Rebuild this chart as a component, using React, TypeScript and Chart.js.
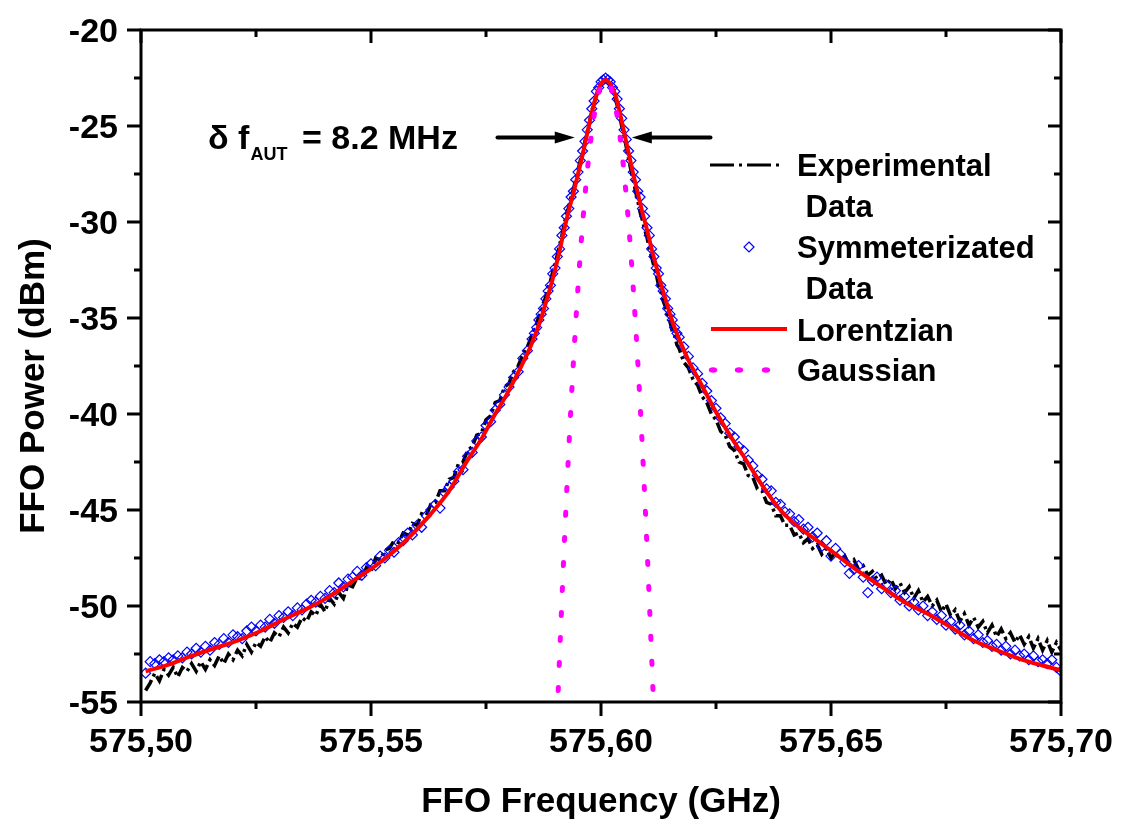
import React, { useEffect, useRef } from 'react';
import { Chart, registerables } from 'chart.js';
Chart.register(...registerables);

// ---------- DATA ----------
// Common frequency grid (GHz) of experimental / symmetrized data
const FREQ = [
  575.501,575.502,575.503,575.504,575.505,575.506,575.507,575.508,575.509,575.510,
  575.511,575.512,575.513,575.514,575.515,575.516,575.517,575.518,575.519,575.520,
  575.521,575.522,575.523,575.524,575.525,575.526,575.527,575.528,575.529,575.530,
  575.531,575.532,575.533,575.534,575.535,575.536,575.537,575.538,575.539,575.540,
  575.541,575.542,575.543,575.544,575.545,575.546,575.547,575.548,575.549,575.550,
  575.551,575.552,575.553,575.554,575.555,575.556,575.557,575.558,575.559,575.560,
  575.561,575.562,575.563,575.564,575.565,575.566,575.567,575.568,575.569,575.570,
  575.571,575.572,575.573,575.574,575.575,575.576,575.577,575.578,575.579,575.580,
  575.581,575.582,575.583,575.584,575.585,
  575.5855,575.586,575.5865,575.587,575.5875,575.588,575.5885,575.589,575.5895,575.590,
  575.5905,575.591,575.5915,575.592,575.5925,575.593,575.5935,575.594,575.5945,575.595,
  575.5955,575.596,575.5965,575.597,575.5975,575.598,575.5985,575.599,575.5995,575.600,
  575.6005,575.601,575.6015,575.602,575.6025,575.603,575.6035,575.604,575.6045,575.605,
  575.6055,575.606,575.6065,575.607,575.6075,575.608,575.6085,575.609,575.6095,575.610,
  575.6105,575.611,575.6115,575.612,575.6125,575.613,575.6135,575.614,575.6145,575.615,
  575.6155,575.616,575.6165,
  575.617,575.618,575.619,575.620,575.621,575.622,575.623,575.624,575.625,575.626,
  575.627,575.628,575.629,575.630,575.631,575.632,575.633,575.634,575.635,575.636,
  575.637,575.638,575.639,575.640,575.641,575.642,575.643,575.644,575.645,575.646,
  575.647,575.648,575.649,575.650,575.651,575.652,575.653,575.654,575.655,575.656,
  575.657,575.658,575.659,575.660,575.661,575.662,575.663,575.664,575.665,575.666,
  575.667,575.668,575.669,575.670,575.671,575.672,575.673,575.674,575.675,575.676,
  575.677,575.678,575.679,575.680,575.681,575.682,575.683,575.684,575.685,575.686,
  575.687,575.688,575.689,575.690,575.691,575.692,575.693,575.694,575.695,575.696,
  575.697,575.698,575.699,575.700
];

// Experimental data (dBm)
const EXPERIMENTAL = [
  -54.4,-54.0,-53.5,-53.9,-53.3,-53.6,-53.2,-53.7,-53.2,-53.4,
  -53.0,-53.4,-52.9,-53.3,-52.8,-53.1,-52.6,-53.0,-52.5,-52.8,
  -52.3,-52.6,-52.0,-52.4,-51.9,-52.1,-51.6,-51.9,-51.4,-51.6,
  -51.1,-51.4,-50.9,-51.1,-50.6,-50.8,-50.3,-50.5,-49.9,-50.3,
  -49.6,-49.9,-49.3,-49.6,-48.9,-49.0,-48.5,-48.6,-48.0,-48.2,
  -47.5,-47.6,-47.1,-47.0,-46.6,-46.7,-46.2,-46.3,-45.7,-45.8,
  -45.2,-45.3,-44.7,-44.6,-44.0,-44.0,-43.4,-43.3,-42.6,-42.5,
  -41.9,-41.7,-41.1,-41.0,-40.3,-40.1,-39.4,-39.3,-38.6,-38.4,
  -37.8,-37.5,-36.9,-36.5,-35.9,
  -35.6,-35.3,-34.9,-34.7,-34.2,-33.9,-33.4,-33.1,-32.6,-32.2,
  -31.7,-31.2,-30.7,-30.1,-29.6,-29.2,-28.7,-28.3,-27.8,-27.3,
  -26.8,-26.4,-25.8,-25.3,-24.8,-24.2,-23.8,-23.4,-23.0,-22.8,
  -22.7,-22.6,-22.7,-22.9,-23.2,-23.5,-23.9,-24.4,-25.0,-25.5,
  -26.1,-26.7,-27.3,-27.8,-28.4,-28.9,-29.5,-29.9,-30.4,-30.8,
  -31.4,-31.8,-32.3,-32.7,-33.3,-33.6,-34.1,-34.4,-34.9,-35.2,
  -35.7,-35.9,-36.4,
  -36.6,-37.3,-37.6,-38.2,-38.5,-39.1,-39.4,-40.0,-40.3,-40.9,
  -41.1,-41.7,-41.9,-42.5,-42.6,-43.2,-43.3,-43.9,-44.0,-44.6,
  -44.7,-45.3,-45.3,-45.8,-45.8,-46.3,-46.2,-46.7,-46.5,-47.0,
  -46.8,-47.3,-47.0,-47.5,-47.2,-47.6,-47.4,-47.9,-47.6,-48.1,
  -47.9,-48.4,-48.2,-48.6,-48.4,-48.9,-48.6,-49.1,-48.8,-49.3,
  -49.0,-49.6,-49.2,-49.8,-49.5,-50.0,-49.7,-50.3,-49.9,-50.5,
  -50.2,-50.8,-50.4,-51.0,-50.6,-51.1,-50.8,-51.4,-51.0,-51.6,
  -51.2,-51.7,-51.4,-51.9,-51.5,-52.0,-51.6,-52.2,-51.7,-52.3,
  -51.8,-52.4,-51.9,-52.3
];

// Symmetrized data (dBm)
const SYMMETRIZED = [
  -53.5,-52.9,-53.0,-52.8,-52.9,-52.7,-52.8,-52.6,-52.7,-52.4,
  -52.5,-52.2,-52.4,-52.1,-52.3,-51.9,-52.0,-51.7,-51.9,-51.5,
  -51.6,-51.7,-51.3,-51.1,-51.3,-51.0,-51.1,-50.7,-50.9,-50.5,
  -50.6,-50.3,-50.5,-50.1,-50.2,-49.9,-49.7,-49.8,-49.5,-49.6,
  -49.2,-49.3,-48.8,-49.0,-48.6,-48.5,-48.2,-48.4,-48.0,-47.8,
  -47.9,-47.4,-47.5,-47.1,-47.2,-46.7,-46.6,-46.2,-46.3,-45.8,
  -45.9,-45.3,-45.0,-44.7,-44.9,-44.1,-43.8,-43.5,-43.0,-42.9,
  -42.2,-42.0,-41.4,-41.2,-40.6,-40.4,-39.8,-39.5,-39.0,-38.6,
  -38.1,-37.8,-37.1,-36.7,-36.1,
  -35.8,-35.5,-35.1,-34.8,-34.5,-34.0,-33.6,-33.3,-32.7,-32.4,
  -31.8,-31.4,-30.7,-30.3,-29.7,-29.3,-28.7,-28.4,-27.8,-27.4,
  -26.8,-26.3,-25.8,-25.2,-24.7,-24.1,-23.7,-23.2,-23.0,-22.7,
  -22.6,-22.5,-22.6,-22.7,-23.0,-23.2,-23.6,-24.1,-24.6,-25.2,
  -25.7,-26.3,-26.8,-27.4,-27.8,-28.4,-28.7,-29.3,-29.7,-30.3,
  -30.7,-31.4,-31.8,-32.4,-32.7,-33.3,-33.6,-34.0,-34.5,-34.8,
  -35.1,-35.5,-35.8,
  -36.0,-36.5,-37.0,-37.6,-37.9,-38.4,-38.8,-39.3,-39.7,-40.2,
  -40.5,-41.0,-41.2,-41.7,-41.9,-42.4,-42.7,-43.2,-43.4,-43.9,
  -44.0,-44.6,-44.7,-45.1,-45.2,-45.6,-45.5,-46.0,-45.9,-46.4,
  -46.2,-46.9,-46.6,-47.4,-47.0,-47.3,-47.7,-48.3,-48.1,-47.9,
  -48.5,-49.3,-48.7,-48.5,-49.1,-48.9,-49.3,-49.2,-49.7,-49.5,
  -50.0,-49.8,-50.2,-50.0,-50.5,-50.3,-50.7,-50.5,-51.0,-50.8,
  -51.2,-51.0,-51.5,-51.3,-51.7,-51.5,-51.9,-51.8,-52.1,-52.0,
  -52.3,-52.1,-52.5,-52.3,-52.6,-52.5,-52.8,-52.6,-52.9,-52.8,
  -53.0,-52.8,-53.2,-53.4
];

// Lorentzian fit
const LOR_FREQ = [
  575.501,575.506,575.511,575.516,575.521,575.526,575.531,575.536,575.541,575.546,
  575.551,575.555,575.559,575.563,575.567,575.571,575.574,575.577,575.579,575.581,
  575.583,575.585,575.587,575.588,575.589,575.590,575.591,575.592,575.593,575.594,
  575.595,575.596,575.597,575.598,575.599,575.600,575.601,
  575.602,575.603,575.604,575.605,575.606,575.607,575.608,575.609,575.610,575.611,
  575.612,575.613,575.614,575.615,575.616,575.617,575.619,575.621,575.623,575.625,
  575.628,575.631,575.635,575.639,575.643,575.647,575.651,575.656,575.661,575.666,
  575.671,575.676,575.681,575.686,575.691,575.696,575.700
];
const LOR_POWER = [
  -53.4,-53.05,-52.6,-52.2,-51.8,-51.3,-50.7,-50.15,-49.5,-48.7,
  -47.9,-47.15,-46.25,-45.2,-44.0,-42.4,-41.3,-40.0,-39.2,-38.3,
  -37.35,-36.3,-35.0,-34.2,-33.4,-32.5,-31.5,-30.4,-29.4,-28.5,
  -27.5,-26.5,-25.4,-24.3,-23.4,-22.8,-22.6,
  -22.8,-23.3,-24.2,-25.3,-26.4,-27.5,-28.5,-29.5,-30.4,-31.4,
  -32.3,-33.2,-34.0,-34.8,-35.5,-36.1,-37.2,-38.1,-39.0,-39.9,
  -41.1,-42.2,-43.7,-45.0,-45.9,-46.6,-47.3,-48.2,-49.0,-49.8,
  -50.4,-51.1,-51.8,-52.3,-52.75,-53.1,-53.35
];

// Gaussian fit
const GAU_FREQ = [
  575.5907,575.591,575.592,575.593,575.594,575.595,575.596,575.597,575.598,575.599,
  575.600,575.601,575.602,575.603,575.604,575.605,575.606,575.607,575.608,575.609,
  575.610,575.611,575.6113
];
const GAU_POWER = [
  -54.4,-52.6,-46.9,-41.8,-37.3,-33.4,-30.1,-27.4,-25.3,-23.8,
  -22.9,-22.6,-22.9,-23.8,-25.3,-27.4,-30.1,-33.4,-37.3,-41.8,
  -46.9,-52.6,-54.4
];

// Axes
const X_TICKS = [575.5, 575.55, 575.6, 575.65, 575.7];
const X_TICK_LABELS = ['575,50', '575,55', '575,60', '575,65', '575,70'];
const X_MINOR = [575.525, 575.575, 575.625, 575.675];
const Y_TICKS = [-20, -25, -30, -35, -40, -45, -50, -55];
const Y_TICK_LABELS = ['-20', '-25', '-30', '-35', '-40', '-45', '-50', '-55'];
const Y_MINOR = [-22.5, -27.5, -32.5, -37.5, -42.5, -47.5, -52.5];

const X_TITLE = 'FFO Frequency (GHz)';
const Y_TITLE = 'FFO Power (dBm)';
const LEGEND = [
  ['Experimental', ' Data'],
  ['Symmeterizated', ' Data'],
  ['Lorentzian'],
  ['Gaussian'],
];
// Linewidth annotation: arrows (GHz, dBm)
const ARROW_LEFT = [575.5775, 575.5943];
const ARROW_RIGHT = [575.6238, 575.6067];
const ARROW_LEVEL = -25.6;

const FONT = '"Liberation Sans", Arial, Helvetica, sans-serif';

const decoPlugin = {
  id: 'deco',
  afterDatasetsDraw(chart: any) {
    const ctx = chart.ctx as CanvasRenderingContext2D;
    const xs = chart.scales.x;
    const ys = chart.scales.y;
    const { left, right, top, bottom } = chart.chartArea;
    ctx.save();
    ctx.fillStyle = '#000';
    ctx.strokeStyle = '#000';
    ctx.setLineDash([]);
    ctx.lineWidth = 3;
    ctx.lineCap = 'butt';
    ctx.strokeRect(left, top, right - left, bottom - top);

    ctx.beginPath();
    X_TICKS.forEach((v) => {
      const p = xs.getPixelForValue(v);
      ctx.moveTo(p, bottom); ctx.lineTo(p, bottom + 14);
      ctx.moveTo(p, top); ctx.lineTo(p, top + 13);
    });
    X_MINOR.forEach((v) => {
      const p = xs.getPixelForValue(v);
      ctx.moveTo(p, bottom); ctx.lineTo(p, bottom + 7);
      ctx.moveTo(p, top); ctx.lineTo(p, top + 7);
    });
    Y_TICKS.forEach((v) => {
      const p = ys.getPixelForValue(v);
      ctx.moveTo(left, p); ctx.lineTo(left - 14, p);
      ctx.moveTo(right, p); ctx.lineTo(right - 13, p);
    });
    Y_MINOR.forEach((v) => {
      const p = ys.getPixelForValue(v);
      ctx.moveTo(left, p); ctx.lineTo(left - 7, p);
      ctx.moveTo(right, p); ctx.lineTo(right - 7, p);
    });
    ctx.stroke();

    // tick labels
    ctx.font = `bold 34px ${FONT}`;
    ctx.textAlign = 'center';
    ctx.textBaseline = 'alphabetic';
    X_TICKS.forEach((v, i) => {
      ctx.fillText(X_TICK_LABELS[i], xs.getPixelForValue(v), bottom + 50);
    });
    ctx.font = `bold 34px ${FONT}`;
    ctx.textAlign = 'right';
    Y_TICKS.forEach((v, i) => {
      ctx.fillText(Y_TICK_LABELS[i], left - 23, ys.getPixelForValue(v) + 12);
    });

    // axis titles
    ctx.font = `bold 35px ${FONT}`;
    ctx.textAlign = 'center';
    ctx.fillText(X_TITLE, (left + right) / 2, 812);
    ctx.save();
    ctx.translate(44, 386);
    ctx.rotate(-Math.PI / 2);
    ctx.fillText(Y_TITLE, 0, 0);
    ctx.restore();

    // annotation text
    ctx.textAlign = 'left';
    ctx.font = `bold 34px ${FONT}`;
    ctx.fillText('\u03B4 f', 208, 149);
    const w = ctx.measureText('\u03B4 f').width;
    ctx.font = `bold 18px ${FONT}`;
    ctx.fillText('AUT', 208 + w + 1, 160);
    ctx.font = `bold 34px ${FONT}`;
    ctx.fillText('= 8.2 MHz', 302, 149);

    // arrows
    const ay = ys.getPixelForValue(ARROW_LEVEL);
    const drawArrow = (fromV: number, toV: number) => {
      const x0 = xs.getPixelForValue(fromV);
      const x1 = xs.getPixelForValue(toV);
      const dir = x1 > x0 ? 1 : -1;
      ctx.lineWidth = 4;
      ctx.lineCap = 'round';
      ctx.beginPath();
      ctx.moveTo(x0, ay);
      ctx.lineTo(x1 - dir * 16, ay);
      ctx.stroke();
      ctx.beginPath();
      ctx.moveTo(x1, ay);
      ctx.lineTo(x1 - dir * 20, ay - 6);
      ctx.lineTo(x1 - dir * 20, ay + 6);
      ctx.closePath();
      ctx.fill();
    };
    drawArrow(ARROW_LEFT[0], ARROW_LEFT[1]);
    drawArrow(ARROW_RIGHT[0], ARROW_RIGHT[1]);

    // legend
    ctx.lineCap = 'butt';
    ctx.lineWidth = 3;
    ctx.setLineDash([24, 5, 3, 5]);
    ctx.beginPath();
    ctx.moveTo(710, 165); ctx.lineTo(780, 165);
    ctx.stroke();
    ctx.setLineDash([]);

    ctx.strokeStyle = '#0000ff';
    ctx.lineWidth = 1.2;
    ctx.beginPath();
    ctx.moveTo(749, 242); ctx.lineTo(754, 247); ctx.lineTo(749, 252); ctx.lineTo(744, 247);
    ctx.closePath();
    ctx.stroke();

    ctx.strokeStyle = '#ff0000';
    ctx.lineWidth = 4;
    ctx.beginPath();
    ctx.moveTo(711, 329); ctx.lineTo(787, 329);
    ctx.stroke();

    ctx.fillStyle = '#ff00ff';
    [713, 739, 766].forEach((x) => {
      ctx.beginPath();
      ctx.ellipse(x, 370, 4.2, 2.8, 0, 0, Math.PI * 2);
      ctx.fill();
    });

    ctx.fillStyle = '#000';
    ctx.font = `bold 31px ${FONT}`;
    ctx.textAlign = 'left';
    const baselines = [[176, 217], [258, 299], [341], [381]];
    LEGEND.forEach((lines, i) => {
      lines.forEach((t, j) => ctx.fillText(t, 797, baselines[i][j]));
    });
    ctx.restore();
  },
};

export default function App() {
  const ref = useRef<HTMLCanvasElement | null>(null);
  useEffect(() => {
    if (!ref.current) return;
    const chart = new Chart(ref.current, {
      type: 'scatter',
      data: {
        datasets: [
          {
            label: 'Gaussian',
            data: GAU_FREQ.map((x, i) => ({ x, y: GAU_POWER[i] })),
            showLine: true,
            borderColor: '#ff00ff',
            borderWidth: 5,
            borderDash: [3, 22],
            borderCapStyle: 'round',
            pointRadius: 0,
            cubicInterpolationMode: 'monotone',
          } as any,
          {
            label: 'Lorentzian',
            data: LOR_FREQ.map((x, i) => ({ x, y: LOR_POWER[i] })),
            showLine: true,
            borderColor: '#ff0000',
            borderWidth: 4,
            pointRadius: 0,
            cubicInterpolationMode: 'monotone',
          } as any,
          {
            label: 'Symmeterizated Data',
            data: FREQ.map((x, i) => ({ x, y: SYMMETRIZED[i] })),
            showLine: false,
            pointStyle: 'rectRot',
            pointRadius: 5,
            pointBorderWidth: 1.2,
            pointBorderColor: '#0000ff',
            pointBackgroundColor: 'rgba(0,0,0,0)',
            borderColor: '#0000ff',
            backgroundColor: 'rgba(0,0,0,0)',
          } as any,
          {
            label: 'Experimental Data',
            data: FREQ.map((x, i) => ({ x, y: EXPERIMENTAL[i] })),
            showLine: true,
            borderColor: '#000000',
            borderWidth: 3.5,
            borderDash: [12, 4, 3, 4],
            pointRadius: 0,
            tension: 0,
          } as any,
        ],
      },
      options: {
        animation: false,
        responsive: false,
        devicePixelRatio: 1,
        events: [],
        layout: { padding: { left: 141, right: 66, top: 30, bottom: 126 } },
        scales: {
          x: { type: 'linear', min: 575.5, max: 575.7, display: false },
          y: { type: 'linear', min: -55, max: -20, display: false },
        },
        plugins: { legend: { display: false }, tooltip: { enabled: false } },
      },
      plugins: [decoPlugin],
    });
    return () => chart.destroy();
  }, []);
  return (
    <div style={{ position: 'fixed', left: 0, top: 0, width: 1127, height: 828, background: '#fff' }}>
      <canvas ref={ref} width={1127} height={828} style={{ display: 'block', width: 1127, height: 828 }} />
    </div>
  );
}
